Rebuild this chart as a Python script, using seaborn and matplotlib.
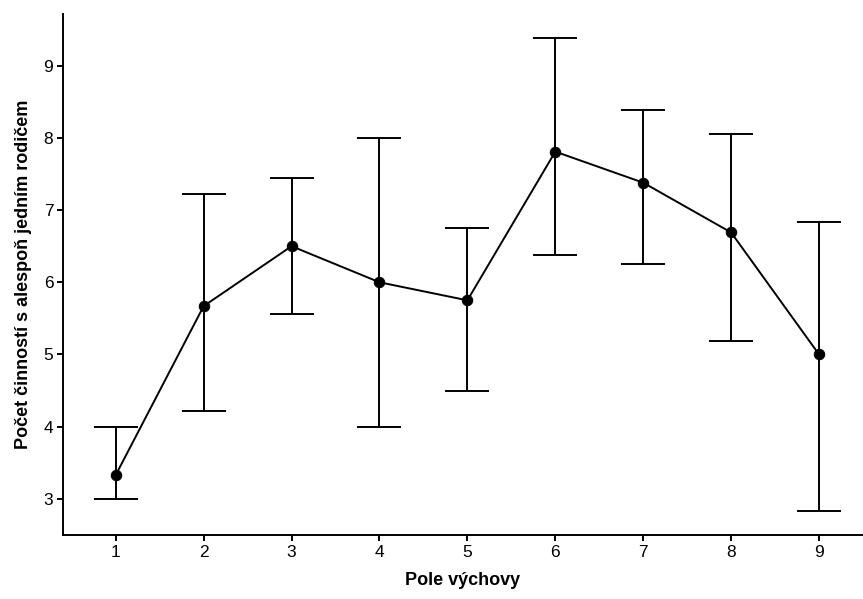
import pandas as pd
import seaborn as sns
import matplotlib.pyplot as plt

# values
pole = [1, 2, 3, 4, 5, 6, 7, 8, 9]
prumer = [3.33, 5.67, 6.50, 6.00, 5.75, 7.81, 7.38, 6.69, 5.00]
dolni = [3.00, 4.22, 5.56, 4.00, 4.50, 6.38, 6.25, 5.19, 2.83]
horni = [4.00, 7.22, 7.45, 8.00, 6.75, 9.38, 8.38, 8.06, 6.83]

df = pd.DataFrame({'pole': pole, 'prumer': prumer, 'dolni': dolni, 'horni': horni})

sns.set_style('ticks')
plt.rcParams['font.family'] = ['Liberation Sans', 'DejaVu Sans']
plt.rcParams['text.color'] = 'black'
plt.rcParams['axes.labelcolor'] = 'black'

fig = plt.figure(figsize=(8.63, 5.99), dpi=100)
ax = fig.add_axes([0.073, 0.107, 0.927, 0.870])

# error bars
ax.errorbar(df['pole'], df['prumer'],
            yerr=[df['prumer'] - df['dolni'], df['horni'] - df['prumer']],
            fmt='none', ecolor='black', elinewidth=1.4, capsize=16, capthick=1.4)

sns.lineplot(data=df, x='pole', y='prumer', color='black', linewidth=1.4,
             marker='o', markersize=7.5, markeredgecolor='black', ax=ax)

ax.set_xlim(0.4, 9.5)
ax.set_ylim(2.5, 9.72)
ax.set_xticks(pole)
ax.set_yticks([3, 4, 5, 6, 7, 8, 9])
ax.tick_params(labelsize=12.5, length=4, width=1.4, colors='black', pad=3)
for s in ['left', 'bottom']:
    ax.spines[s].set_linewidth(1.4)
    ax.spines[s].set_color('black')
sns.despine(ax=ax)

ax.set_xlabel('Pole výchovy', fontsize=13, fontweight='bold', labelpad=9)
ax.set_ylabel('Počet činností s alespoň jedním rodičem', fontsize=13, fontweight='bold', labelpad=8)

fig.savefig('out.png', dpi=100)
